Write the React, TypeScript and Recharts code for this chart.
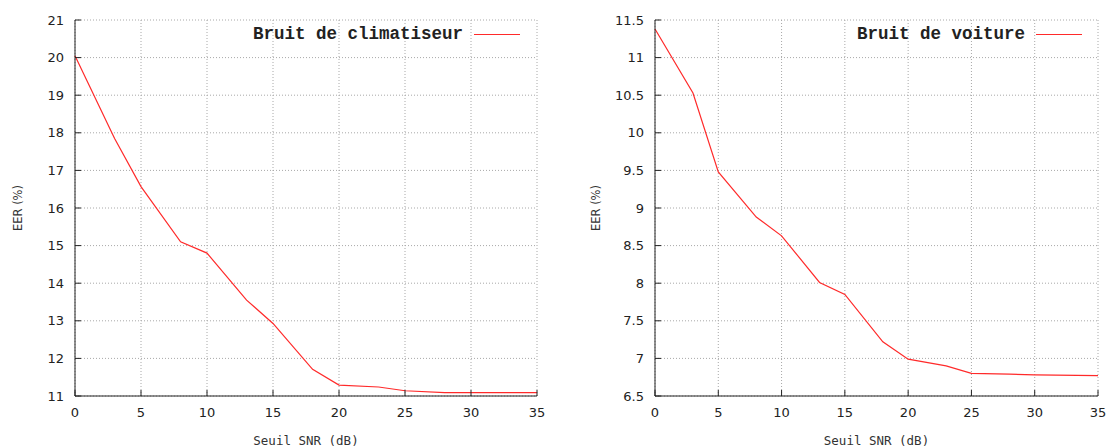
import { LineChart, Line, XAxis, YAxis, CartesianGrid, Legend } from "recharts";

// Seuil SNR (dB)
const snr = [0, 3, 5, 8, 10, 13, 15, 18, 20, 23, 25, 28, 30, 35];
// EER (%) - bruit de climatiseur
const eerClimatiseur = [20.05, 17.85, 16.57, 15.1, 14.8, 13.55, 12.93, 11.71, 11.29, 11.24, 11.14, 11.09, 11.09, 11.09];
// EER (%) - bruit de voiture
const eerVoiture = [11.38, 10.53, 9.48, 8.88, 8.63, 8.01, 7.85, 7.22, 6.99, 6.9, 6.8, 6.79, 6.78, 6.77];

const xTicks = [0, 5, 10, 15, 20, 25, 30, 35];
const yTicksClim = [11, 12, 13, 14, 15, 16, 17, 18, 19, 20, 21];
const yTicksVoit = [6.5, 7, 7.5, 8, 8.5, 9, 9.5, 10, 10.5, 11, 11.5];

const AXIS = "#222";
const GRID = "#a8a8a8";
const RED = "#ff2a2a";
const TICK_FONT = "'DejaVu Sans', sans-serif";
const TICK_LEN = 6;

function BottomTick({ x, y, payload }: any) {
  return (
    <g>
      <line x1={x} y1={y} x2={x} y2={y - TICK_LEN} stroke={AXIS} />
      <text x={x} y={y + 21} textAnchor="middle" fontFamily={TICK_FONT} fontSize={13} fill="#222">
        {payload.value}
      </text>
    </g>
  );
}

function TopTick({ x, y }: any) {
  return <line x1={x} y1={y} x2={x} y2={y + TICK_LEN} stroke={AXIS} />;
}

function LeftTick({ x, y, payload }: any) {
  return (
    <g>
      <line x1={x} y1={y} x2={x + TICK_LEN} y2={y} stroke={AXIS} />
      <text x={x - 11} y={y} dy="0.35em" textAnchor="end" fontFamily={TICK_FONT} fontSize={13} fill="#222">
        {payload.value}
      </text>
    </g>
  );
}

function RightTick({ x, y }: any) {
  return <line x1={x} y1={y} x2={x - TICK_LEN} y2={y} stroke={AXIS} />;
}

function NoisePlot({
  values, yDomain, yTicks, legend, width, yAxisWidth, labelOffset, marginRight, legendLeft,
}: {
  values: number[]; yDomain: [number, number]; yTicks: number[]; legend: string; width: number;
  yAxisWidth: number; labelOffset: number; marginRight: number; legendLeft: number;
}) {
  const data = snr.map((s, i) => ({ snr: s, eer: values[i] }));
  return (
    <LineChart width={width} height={448} data={data} margin={{ top: 20, right: marginRight, bottom: 0, left: 0 }}>
      <CartesianGrid stroke={GRID} strokeDasharray="1 2" />
      <XAxis
        dataKey="snr" type="number" domain={[0, 35]} ticks={xTicks} interval={0} height={52}
        axisLine={{ stroke: AXIS }} tickLine={false} tickSize={0} tickMargin={0} tick={<BottomTick />}
        label={{ value: "Seuil SNR (dB)", position: "insideBottom", offset: 3, fontFamily: "'DejaVu Sans Mono', monospace", fontSize: 12.5, fill: "#333" }}
      />
      <XAxis
        xAxisId="top" orientation="top" type="number" domain={[0, 35]} ticks={xTicks} interval={0} height={0}
        axisLine={{ stroke: AXIS }} tickLine={false} tickSize={0} tickMargin={0} tick={<TopTick />}
      />
      <YAxis
        type="number" domain={yDomain} ticks={yTicks} interval={0} width={yAxisWidth}
        axisLine={{ stroke: AXIS }} tickLine={false} tickSize={0} tickMargin={0} tick={<LeftTick />}
        label={{ value: "EER (%)", angle: -90, position: "insideLeft", offset: labelOffset, style: { textAnchor: "middle" }, fontFamily: TICK_FONT, fontSize: 11.5, fill: "#333" }}
      />
      <YAxis
        yAxisId="right" orientation="right" type="number" domain={yDomain} ticks={yTicks} interval={0} width={0}
        axisLine={{ stroke: AXIS }} tickLine={false} tickSize={0} tickMargin={0} tick={<RightTick />}
      />
      <Legend
        layout="vertical" verticalAlign="middle" align="center"
        wrapperStyle={{ top: 24, left: legendLeft, width: "auto" }}
        content={() => (
          <div style={{ display: "flex", alignItems: "center", whiteSpace: "nowrap", fontFamily: "'Liberation Mono', monospace", fontWeight: "bold", fontSize: 17.5, color: "#222" }}>
            <span>{legend}</span>
            <span style={{ display: "inline-block", width: 46, borderTop: `1px solid ${RED}`, marginLeft: 11 }} />
          </div>
        )}
      />
      <Line type="linear" dataKey="eer" stroke={RED} strokeWidth={1.2} dot={false} isAnimationActive={false} />
    </LineChart>
  );
}

export default function App() {
  return (
    <div style={{ position: "relative", width: 1109, height: 448, background: "#fff" }}>
      <style>{`body{margin:0}`}</style>
      <div style={{ position: "absolute", left: 0, top: 0 }}>
        <NoisePlot values={eerClimatiseur} yDomain={[11, 21]} yTicks={yTicksClim} legend="Bruit de climatiseur"
          width={555} yAxisWidth={75} labelOffset={18} marginRight={18} legendLeft={253} />
      </div>
      <div style={{ position: "absolute", left: 555, top: 0 }}>
        <NoisePlot values={eerVoiture} yDomain={[6.5, 11.5]} yTicks={yTicksVoit} legend="Bruit de voiture"
          width={554} yAxisWidth={100} labelOffset={41} marginRight={11} legendLeft={302} />
      </div>
    </div>
  );
}
